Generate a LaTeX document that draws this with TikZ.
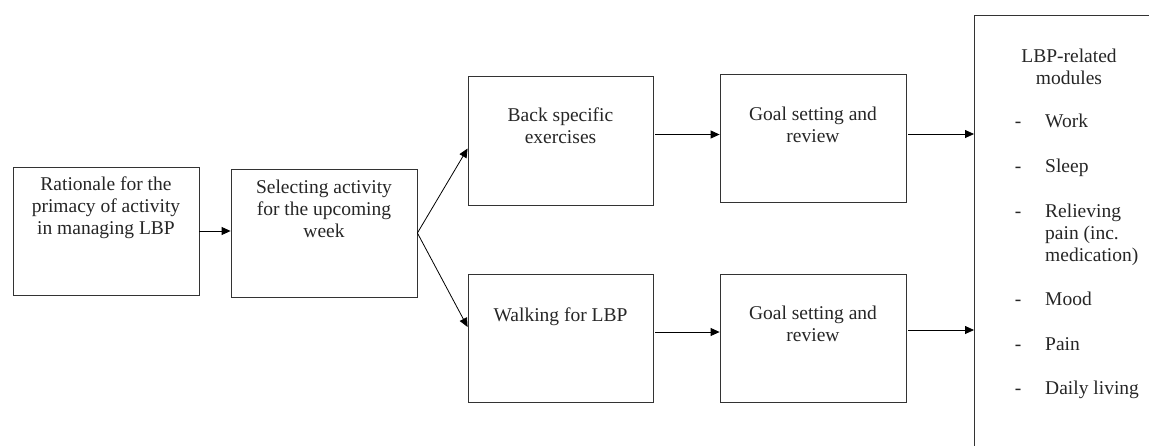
\documentclass[tikz,border=0pt]{standalone}
\usepackage{fontspec}
\setmainfont{Liberation Serif}
\usetikzlibrary{arrows.meta,calc}
\begin{document}
\begin{tikzpicture}[x=1pt,y=-1pt,
  box/.style={draw=black!80,line width=0.8pt,rectangle,inner sep=0pt},
  txt/.style={inner sep=0pt,align=center,font=\fontsize{19.5}{22}\selectfont,text=black!85},
  itm/.style={inner sep=0pt,font=\fontsize{19.5}{22}\selectfont,text=black!85},
  arr/.style={draw=black,line width=0.8pt,-{Triangle[length=9pt,width=8pt]}}]
\useasboundingbox (0,0) rectangle (1149,445);
\clip (0,0) rectangle (1149,445);
% boxes
\node[box,minimum width=186pt,minimum height=128pt] (b1) at (106,231) {};
\node[box,minimum width=186pt,minimum height=128pt] (b2) at (324,233) {};
\node[box,minimum width=185pt,minimum height=129pt] (b3) at (560.5,140.5) {};
\node[box,minimum width=185pt,minimum height=128pt] (b4) at (560.5,338) {};
\node[box,minimum width=186pt,minimum height=128pt] (g1) at (813,138) {};
\node[box,minimum width=186pt,minimum height=128pt] (g2) at (813,338) {};
\node[box,minimum width=220pt,minimum height=470pt,anchor=north west] (mods) at (974,15) {};
% texts
\node[txt,anchor=north] (t1) at ($(b1.north)+(0,10)$) {Rationale for the\\primacy of activity\\in managing LBP};
\node[txt,anchor=north] (t2) at ($(b2.north)+(0,11)$) {Selecting activity\\for the upcoming\\week};
\node[txt,anchor=north] (t3) at ($(b3.north)+(0,32)$) {Back specific\\exercises};
\node[txt,anchor=north] (t4) at ($(b4.north)+(0,34)$) {Walking for LBP};
\node[txt,anchor=north] (t5) at ($(g1.north)+(0,33)$) {Goal setting and\\review};
\node[txt,anchor=north] (t6) at ($(g2.north)+(0,32)$) {Goal setting and\\review};
\node[itm,anchor=base] (h1) at (1069,62) {LBP-related};
\node[itm,anchor=base] (h2) at (1069,84) {modules};
\node[itm,anchor=base] (d1) at (1018,127) {-};
\node[itm,anchor=base west] (i1) at (1045,127) {Work};
\node[itm,anchor=base] (d2) at (1018,172) {-};
\node[itm,anchor=base west] (i2) at (1045,172) {Sleep};
\node[itm,anchor=base] (d3) at (1018,217) {-};
\node[itm,anchor=base west] (i3a) at (1045,217) {Relieving};
\node[itm,anchor=base west] (i3b) at (1045,239) {pain (inc.};
\node[itm,anchor=base west] (i3c) at (1045,261) {medication)};
\node[itm,anchor=base] (d4) at (1018,305) {-};
\node[itm,anchor=base west] (i4) at (1045,305) {Mood};
\node[itm,anchor=base] (d5) at (1018,350) {-};
\node[itm,anchor=base west] (i5) at (1045,350) {Pain};
\node[itm,anchor=base] (d6) at (1018,394) {-};
\node[itm,anchor=base west] (i6) at (1045,394) {Daily living};
% arrows
\draw[arr] (b1.east) -- (b1.east -| b2.west);
\draw[arr] (b2.east) -- ($(b3.west)+(0,8)$);
\draw[arr] (b2.east) -- ($(b4.west)+(0,-11)$);
\draw[arr] ([yshift=6pt,xshift=2pt]b3.east) -- ([yshift=6pt]b3.east -| g1.west);
\draw[arr] ([yshift=6pt,xshift=2pt]b4.east) -- ([yshift=6pt]b4.east -| g2.west);
\draw[arr] ([yshift=4pt,xshift=2pt]g1.east) -- ([yshift=4pt]g1.east -| mods.west);
\draw[arr] ([yshift=8pt,xshift=2pt]g2.east) -- ([yshift=8pt]g2.east -| mods.west);
\end{tikzpicture}
\end{document}
